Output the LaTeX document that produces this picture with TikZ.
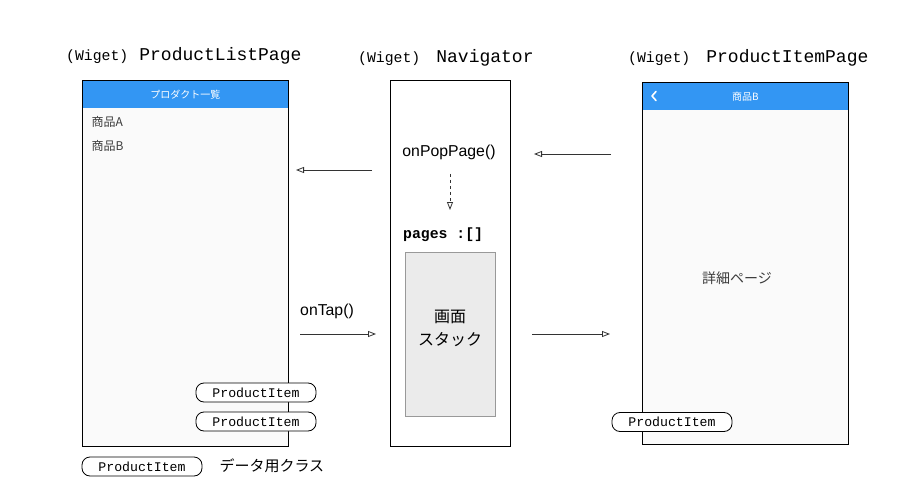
\documentclass[tikz,border=0pt]{standalone}
\usepackage{fontspec}
\setmainfont{Liberation Sans}
\setmonofont{Liberation Mono}
\newfontfamily\jpfont{Noto Sans CJK JP}
\usetikzlibrary{arrows.meta,positioning}
\definecolor{barblue}{RGB}{51,150,243}
\definecolor{pagebg}{RGB}{250,250,250}
\definecolor{stackgray}{RGB}{235,235,235}
\definecolor{itemtext}{RGB}{60,60,60}
\newcommand\setfs[1]{\fontsize{#1}{#1}\selectfont}
\tikzset{
  screen/.style={draw, line width=0.8pt, inner sep=0pt, anchor=north west},
  pill/.style={draw, line width=0.8pt, rounded corners=8pt, minimum width=120pt, minimum height=19pt, inner sep=0pt, font=\ttfamily\setfs{13.2}},
  flow/.style={draw=black!80, line width=0.8pt, -{Triangle[open, length=8pt, width=6pt]}},
  wtitle/.style={anchor=base west, inner sep=0pt, font=\ttfamily\setfs{18}},
}
\begin{document}
\begin{tikzpicture}[x=1pt, y=-1pt]
  \useasboundingbox (0,0) rectangle (900,500);
  % titles
  \node[wtitle] (listtitle) at (66,61) {{\setfs{14.8}(Wiget)}\hspace{11pt}ProductListPage};
  \node[wtitle] (navtitle) at (358,63) {{\setfs{14.8}(Wiget)}\hspace{16pt}Navigator};
  \node[wtitle] (itemtitle) at (628,63) {{\setfs{14.8}(Wiget)}\hspace{16pt}ProductItemPage};
  % ProductListPage
  \node[screen, fill=pagebg, minimum width=206pt, minimum height=366pt] (listpage) at (82,80) {};
  \node[screen, fill=barblue, minimum width=206pt, minimum height=28pt, draw=none] (listbar) at (82,80) {};
  \node[text=white, font=\jpfont\setfs{10}] (listhead) at (listbar.center) {プロダクト一覧};
  \node[anchor=west, text=itemtext, font=\jpfont\setfs{12}] (itemA) at (88,122) {商品A};
  \node[anchor=west, text=itemtext, font=\jpfont\setfs{12}] (itemB) at (88,146) {商品B};
  \draw[line width=0.8pt] (listpage.north west) rectangle (listpage.south east);
  % Navigator
  \node[screen, fill=white, minimum width=120pt, minimum height=366pt] (nav) at (390,80) {};
  \node[font=\setfs{15.8}] (pop) at (449,152) {onPopPage()};
  \node[anchor=base west, inner sep=0pt, font=\ttfamily\bfseries\setfs{14.8}] (pages) at (403,238) {pages :[]};
  \coordinate (popdown) at (450,174);
  \coordinate (pagesup) at (450,210);
  \draw[flow, dashed] (popdown) -- (pagesup);
  \node[draw=black!40, fill=stackgray, minimum width=90pt, minimum height=164pt, inner sep=0pt] (stack) at (450,334) {};
  \node[align=center, font=\jpfont\setfs{16}] (stacktext) at (450,328.5) {画面\\[7pt]スタック};
  % ProductItemPage
  \node[screen, fill=pagebg, minimum width=206pt, minimum height=362pt] (itempage) at (642,82) {};
  \node[screen, fill=barblue, minimum width=206pt, minimum height=28pt, draw=none] (itembar) at (642,82) {};
  \node[text=white, font=\jpfont\setfs{10}] (itemhead) at (itembar.center) {商品B};
  \draw[white, line width=1.6pt, line cap=round, line join=round] (656,91.5) -- (652,96) -- (656,100.5);
  \node[text=itemtext, font=\jpfont\setfs{14}] (detail) at (737,278) {詳細ページ};
  \draw[line width=0.8pt] (itempage.north west) rectangle (itempage.south east);
  % connectors
  \coordinate (popfrom) at (372,170);
  \coordinate (popto) at (296,170);
  \coordinate (backfrom) at (611,154);
  \coordinate (backto) at (534,154);
  \coordinate (tapfrom) at (300,334);
  \coordinate (tapto) at (376,334);
  \coordinate (pushfrom) at (532,334);
  \coordinate (pushto) at (610,334);
  \draw[flow] (popfrom) -- (popto);
  \draw[flow] (backfrom) -- (backto);
  \draw[flow] (tapfrom) -- (tapto);
  \draw[flow] (pushfrom) -- (pushto);
  \node[font=\setfs{15.8}] (tap) at (327,311) {onTap()};
  % data classes
  \node[pill, fill=white] (prod1) at (256,392.5) {ProductItem};
  \node[pill, fill=white] (prod2) at (256,421.5) {ProductItem};
  \node[pill, fill=white] (prod3) at (672,422) {ProductItem};
  \node[pill, fill=white] (legend) at (142,466.5) {ProductItem};
  \node[anchor=west, font=\jpfont\setfs{15}] (legendtext) at (216,466) {データ用クラス};
\end{tikzpicture}
\end{document}
